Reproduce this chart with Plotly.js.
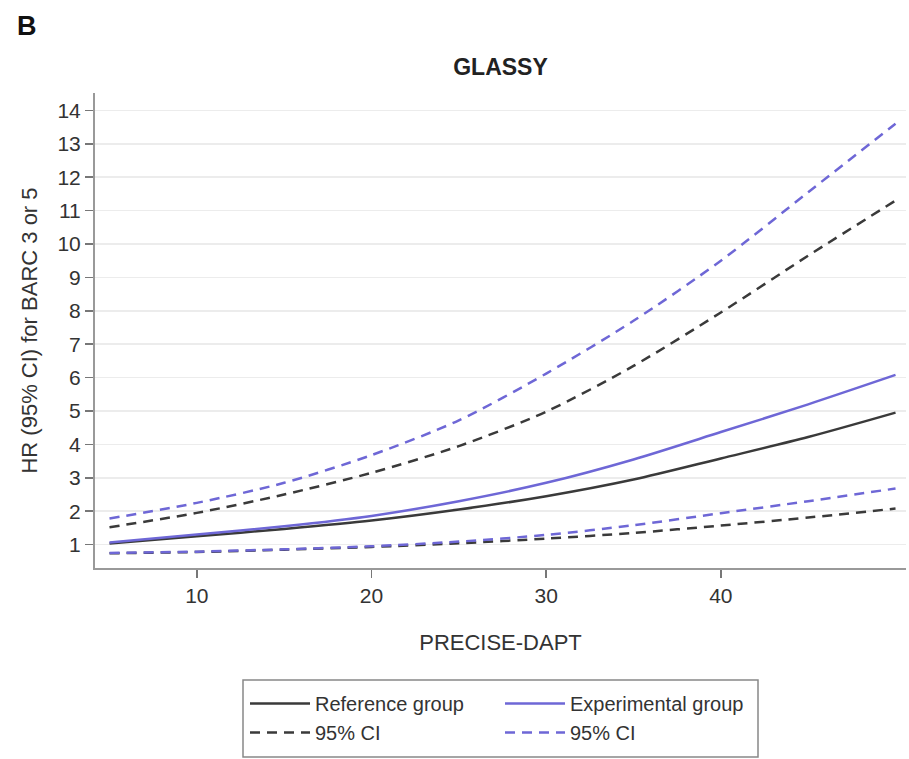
<!DOCTYPE html>
<html>
<head>
<meta charset="utf-8">
<script src="https://cdn.plot.ly/plotly-3.0.1.min.js"></script>
<style>html,body{margin:0;padding:0;background:#fff;}#chart{width:909px;height:759px;}</style>
</head>
<body>
<div id="chart"></div>
<script>
// PRECISE-DAPT score (x)
const score = [5, 10, 15, 20, 25, 30, 35, 40, 45, 50];
// Reference group HR and 95% CI
const refHR    = [1.03, 1.25, 1.47, 1.72, 2.05, 2.45, 2.95, 3.58, 4.22, 4.95];
const refLower = [0.74, 0.78, 0.85, 0.93, 1.04, 1.18, 1.35, 1.57, 1.81, 2.08];
const refUpper = [1.52, 1.95, 2.50, 3.15, 3.95, 4.98, 6.35, 7.95, 9.65, 11.3];
// Experimental group HR and 95% CI
const expHR    = [1.06, 1.30, 1.55, 1.86, 2.30, 2.85, 3.55, 4.37, 5.20, 6.08];
const expLower = [0.75, 0.79, 0.86, 0.95, 1.09, 1.29, 1.58, 1.94, 2.30, 2.68];
const expUpper = [1.78, 2.25, 2.85, 3.68, 4.72, 6.12, 7.70, 9.50, 11.55, 13.6];

const yTicks = [1,2,3,4,5,6,7,8,9,10,11,12,13,14];
const xTicks = [10, 20, 30, 40];

const blackC = '#3a3a3a';
const blueC = '#6e67d6';
const dashP = '10px,7px';

const traces = [
  {x: score, y: refHR, name: 'Reference group', mode: 'lines', line: {color: blackC, width: 2.5}, legend: 'legend'},
  {x: score, y: refUpper, name: '95% CI', mode: 'lines', line: {color: blackC, width: 2.5, dash: dashP}, legend: 'legend'},
  {x: score, y: refLower, name: '95% CI', mode: 'lines', line: {color: blackC, width: 2.5, dash: dashP}, showlegend: false},
  {x: score, y: expHR, name: 'Experimental group', mode: 'lines', line: {color: blueC, width: 2.5}, legend: 'legend2'},
  {x: score, y: expUpper, name: '95% CI', mode: 'lines', line: {color: blueC, width: 2.5, dash: dashP}, legend: 'legend2'},
  {x: score, y: expLower, name: '95% CI', mode: 'lines', line: {color: blueC, width: 2.5, dash: dashP}, showlegend: false}
];
traces.forEach(t => { t.line.shape = 'spline'; t.line.smoothing = 0.8; });

const font = {family: 'Liberation Sans, Arial, sans-serif', color: '#333'};

const layout = {
  width: 909, height: 759,
  margin: {l: 95, r: 3, t: 93, b: 191},
  paper_bgcolor: '#fff', plot_bgcolor: '#fff',
  font: font,
  showlegend: true,
  title: {text: '<b>GLASSY</b>', font: {family: font.family, size: 23, color: '#222'}, x: 0.5, xref: 'paper', y: 1, yref: 'container', yanchor: 'top', pad: {t: 59}},
  xaxis: {
    range: [4.17, 50.6], tickvals: xTicks, ticks: 'outside', ticklen: 8, tickwidth: 1.5, tickcolor: '#777',
    showline: true, linecolor: '#999', linewidth: 2, showgrid: false, zeroline: false,
    tickfont: {size: 21, color: '#333'},
    title: {text: 'PRECISE-DAPT', font: {size: 22, color: '#333'}, standoff: 28}
  },
  yaxis: {
    range: [0.3, 14.52], tickvals: yTicks, ticks: 'outside', ticklen: 8, tickwidth: 1.5, tickcolor: '#777',
    showline: true, linecolor: '#999', linewidth: 2, showgrid: true, gridcolor: '#ececec', gridwidth: 1.5, zeroline: false,
    tickfont: {size: 21, color: '#333'},
    title: {text: 'HR (95% CI) for BARC 3 or 5', font: {size: 22, color: '#333'}, standoff: 14}
  },
  legend: {x: (245 - 95) / 811, xanchor: 'left', y: (568 - 684) / 475, yanchor: 'top', orientation: 'v',
    font: {size: 20, color: '#333'}, bgcolor: 'rgba(0,0,0,0)', borderwidth: 0, itemwidth: 60, tracegroupgap: 0},
  legend2: {x: (500 - 95) / 811, xanchor: 'left', y: (568 - 684) / 475, yanchor: 'top', orientation: 'v',
    font: {size: 20, color: '#333'}, bgcolor: 'rgba(0,0,0,0)', borderwidth: 0, itemwidth: 60, tracegroupgap: 0},
  shapes: [{type: 'rect', xref: 'paper', yref: 'paper',
    x0: (243 - 95) / 811, x1: (758 - 95) / 811, y0: (568 - 757) / 475, y1: (568 - 680) / 475,
    line: {color: '#888', width: 1.5}, fillcolor: 'rgba(0,0,0,0)'}],
  annotations: [{text: '<b>B</b>', xref: 'paper', yref: 'paper', x: (15 - 95) / 811, xanchor: 'left', y: (568 - 26) / 475, yanchor: 'middle',
    showarrow: false, font: {size: 27, color: '#111', family: font.family}}]
};

Plotly.newPlot('chart', traces, layout, {displayModeBar: false, staticPlot: true});
</script>
</body>
</html>
